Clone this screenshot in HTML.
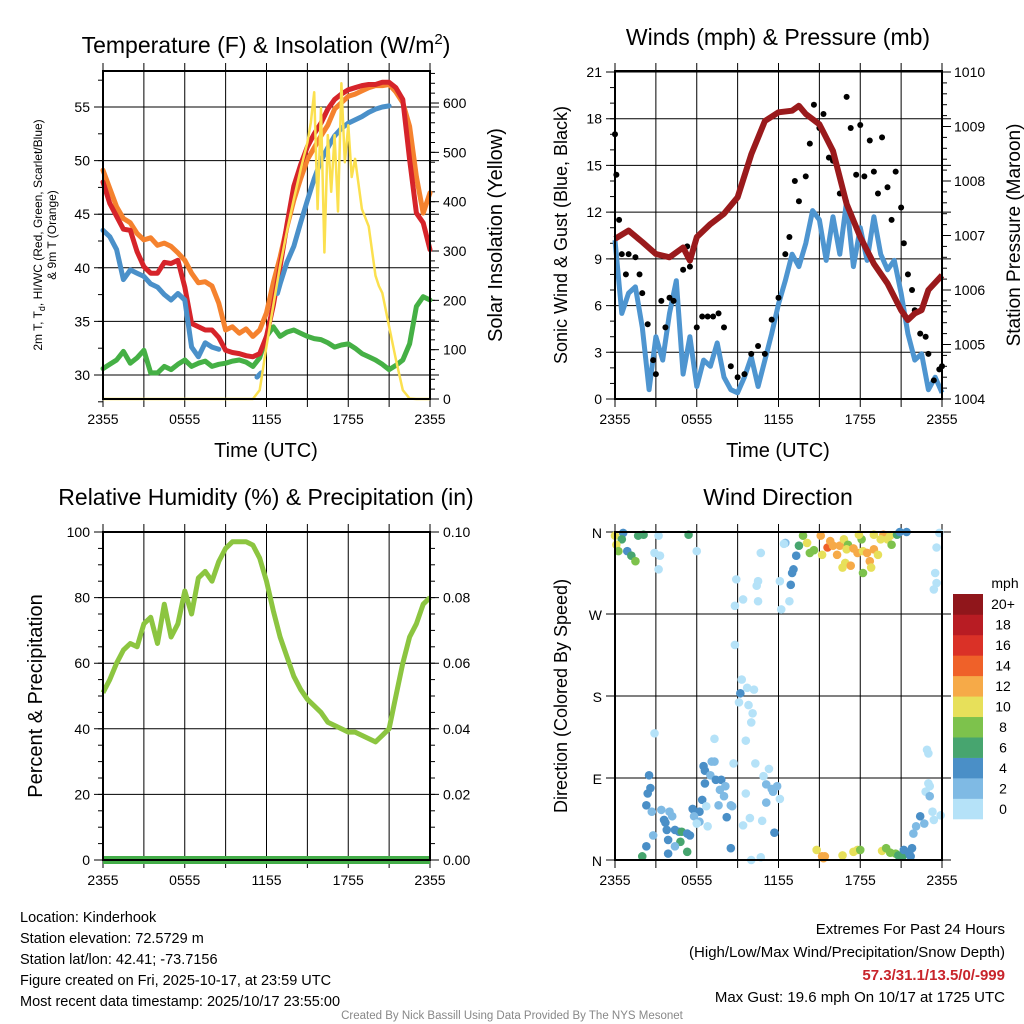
<!DOCTYPE html>
<html><head><meta charset="utf-8"><style>
body{margin:0;background:#fff}
svg{display:block;font-family:"Liberation Sans",Arial,sans-serif}
</style></head><body>
<svg id="c" width="1024" height="1024" viewBox="0 0 1024 1024" xmlns="http://www.w3.org/2000/svg"></svg>
<script>
// ---------- DATA ----------
const xTickLabels = ["2355","0555","1155","1755","2355"];
const tempTicks = [30,35,40,45,50,55];
const solarTicks = [0,100,200,300,400,500,600];
const windTicks = [0,3,6,9,12,15,18,21];
const presTicks = [1004,1005,1006,1007,1008,1009,1010];
const rhTicks = [0,20,40,60,80,100];
const precipTicks = ["0.00","0.02","0.04","0.06","0.08","0.10"];
const dirTickLabels = ["N","E","S","W","N"];
const speedLegendLabels = ["0","2","4","6","8","10","12","14","16","18","20+"];
const speedColors = ["#b5e2f8","#7fbae4","#4a8fc7","#47a56f","#7dc24c","#e7e05a","#f6aa48","#ef6129","#da3127","#b81c23","#90161b"];

const orangeHours = [0,0.5,1,1.5,2,2.5,3,3.5,4,4.5,5,5.5,6,6.5,7,7.5,8,8.5,9,9.5,10,10.5,11,11.5,12,12.5,13,13.5,14,14.5,15,15.5,16,16.5,17,17.5,18,18.5,19,19.5,20,20.5,21,21.5,22,22.5,23,23.5,24];
const orangeT = [49.1,47.4,45.7,44.6,44.2,43.2,42.6,42.8,42.1,42.3,42,41.4,40.7,39.5,38.6,38.7,38.3,36.7,34.2,34.5,33.9,34.3,33.6,34.2,35.8,38.6,41,43.8,46.3,48.3,50.1,51.2,52.3,53.3,54.8,55.4,56,56.2,56.5,56.8,57,57,57.1,56.4,55.4,53.2,48.5,45.1,47];
const redHours = orangeHours;
const redT = [48,46,44.8,43.6,43.5,41.5,40.1,39.5,39.5,40.5,40.4,40.7,38.2,34.8,34.5,34.2,34.2,33.5,32.3,32.1,32,31.8,31.7,32,33.6,36.5,40.1,44,47.6,49.6,51.3,52.5,53.5,54.8,55.7,56.2,56.6,56.8,57,57.1,57.1,57.3,57.3,56.8,55.7,50.1,45.1,44.2,41.7];
const blueHours = [0,0.5,1,1.5,2,2.5,3,3.5,4,4.5,5,5.5,6,6.5,7,7.5,8,8.5,null,11.3,11.6,null,12.8,13,13.5,14,14.5,15,15.5,16,16.5,17,17.5,18,18.5,19,19.5,20,20.5,21];
const blueT = [43.5,42.9,41.7,38.9,39.8,39.5,39.2,38.5,38.2,37.5,37,37.6,37,32.6,31.7,33,32.6,32.4,null,29.8,30.2,null,37.6,38.5,40.5,42,44.2,46.3,48.3,50,51.2,52.3,53,53.5,53.8,54.1,54.5,54.8,55,55.1];
const greenHours = orangeHours;
const greenT = [30.6,31,31.4,32.2,31.1,31.6,32.3,30.2,30.2,30.8,30.5,31,31.4,30.8,31.1,31.3,30.8,31,31.1,31.3,31.4,31.2,30.8,31.6,33.6,34.5,33.6,34,34.2,33.9,33.6,33.4,33.3,33,32.6,32.8,32.9,32.5,32,31.7,31.4,31,30.5,30.9,31.4,32.9,36.4,37.3,37];
const solarHours = [0,6,11,11.5,12,12.5,13,13.5,14,14.5,15,15.25,15.5,15.75,16,16.25,16.5,16.75,17,17.25,17.5,17.75,18,18.25,18.5,19,19.5,20,20.25,20.5,21,21.5,22,22.5,23,24];
const solarW = [0,0,0,18,107,190,270,340,405,465,520,560,622,385,590,297,535,420,535,380,640,480,555,450,487,385,350,250,229,215,147,80,18,1,0,0];

const presHours = [0,1,2,3,4,5,5.5,6,7,8,9,10,11,12,13,13.5,14,15,16,17,18,19,20,21,21.5,22,22.5,23,24];
const presMb = [1006.94,1007.09,1006.88,1006.66,1006.6,1006.78,1006.54,1006.97,1007.21,1007.4,1007.7,1008.49,1009.1,1009.26,1009.29,1009.38,1009.23,1009.04,1008.55,1007.58,1006.97,1006.48,1006.12,1005.63,1005.45,1005.57,1005.63,1006,1006.27];
const windHours = [0,0.5,1,1.5,2,2.5,3,3.5,4,4.5,5,5.5,6,6.5,7,7.5,8,8.5,9,9.5,10,10.5,11,11.5,12,12.5,13,13.5,14,14.5,15,15.5,16,16.5,17,17.5,18,18.5,19,19.5,20,20.5,21,21.5,22,22.5,23,23.5,24];
const windMph = [10.2,5.5,6.8,7.2,4.6,0.6,4,2.5,5.5,7.6,1.6,4,0.8,2.5,2.1,3.6,1.4,0.6,0.4,1.4,2.7,0.8,2.5,4.2,6.1,7.6,9.3,8.5,10,12.1,11.5,8.9,11.7,9.3,12.7,8.5,11,8.9,11.7,9.3,8.3,8.9,6.8,4.2,2.5,2.9,0.6,1.4,0.4];
const gustHours = [0,0.1,0.3,0.5,0.8,1,1.5,1.8,2,2.4,2.8,3,3.4,3.7,4,4.3,5,5.3,5.5,6,6.4,6.8,7.2,7.6,8,8.5,9,9.5,10,10.5,11,11.5,12,12.5,12.8,13.2,13.5,14,14.3,14.6,15,15.3,15.7,16,16.5,17,17.3,17.7,18,18.3,18.7,19,19.3,19.6,20,20.3,20.6,21,21.2,21.5,21.8,22,22.4,22.8,23,23.4,23.8,24];
const gustMph = [17,14.4,11.5,9.3,8,9.3,9.1,8,6.8,4.8,2.5,1.6,6.3,4.6,6.5,6.3,8.3,9.8,8.5,4.6,5.3,5.3,5.3,5.5,4.6,2.1,1.4,1.6,2.9,3.4,2.9,5.1,6.5,9.3,10.4,14,12.7,14.3,16.4,18.9,17.4,18.3,15.5,15.3,13.2,19.4,17.4,14.4,17.6,14.3,16.6,14.6,13.2,16.8,13.6,11.5,14.6,12.3,10,8,7,5.7,4.2,4,2.9,1.2,1.9,2.1];

const rhHours = windHours;
const rhPct = [51,55,60,64,66,65,72,74,66,78,68,72,82,75,86,88,85,91,95,97,97,97,96,92,85,76,68,62,56,52,49,47,45,42,41,40,39,39,38,37,36,38,40,50,60,68,72,78,80];
const precipHours = [0,24];
const precipIn = [0,0];

const dirHours = [
 0,0.6,0.5,0.9,1.2,1.5,1.7,2.1,0.1,0.25,3.2,2.9,3.3,3.2,5.4,6.0,
 8.9,10.7,9.4,8.8,10.4,10.5,10.5,8.8,9.3,9.7,10.2,9.2,9.1,9.8,10.1,10,9.6,
 12.5,13.3,13.1,13,12.9,12.8,12.2,12.1,12.4,13.5,13.8,14.1,14.3,14.6,
 15.1,15.6,15.8,16,16.3,16.5,16.8,17.1,17,17.5,17.8,18.1,18.2,18.5,19,19.3,18.7,18.8,18.2,16.9,17.3,16.7,17.9,19,19.7,20,20.2,20.3,20.7,19.5,15.2,20.9,21.4,
 23.8,23.6,23.5,23.6,23.4,
 2.5,2.6,2.4,2.3,2.7,3.4,3.6,3.7,4.0,4.2,3.8,4.4,4.7,4.9,5.3,5.5,4.8,3.9,4.4,5.3,3.9,2.3,2.0,2.8,2.9,
 6.5,6.6,7.3,7.1,7.0,7.4,7.8,6.6,7.7,8.1,8.0,7.6,8.5,8.6,6.4,6.7,5.7,6.2,5.8,6.2,6.0,6.8,8.2,8.5,7.3,8.7,9.6,9.4,9.9,10.8,10,10.7,10.3,10.9,11.3,11.1,11.5,11.6,11.9,12.1,11.1,11.7,
 14.8,15.2,15.4,15.3,16.7,17.5,17.8,18,19.6,19.9,20.2,20.6,20.8,21.1,21.2,21.6,21.7,21.8,21.9,22.1,22.4,22.7,22.9,23,23,23.1,22.8,23.1,23.3,23.4,23.9];
const dirDeg = [
 356,359,352,339,334,328,356,357,346,339,356,337,334,319,357,339,
 308,337,286,279,301,284,306,236,198,189,187,183,173,170,161,151,131,
 348,334,319,315,302,284,275,306,347,345,356,348,337,340,
 356,343,350,345,335,345,352,346,341,342,337,352,339,337,341,335,328,321,315,326,323,321,357,357,357,352,356,346,357,352,335,360,360,
 359,343,315,304,297,
 93,79,73,60,53,55,44,41,53,48,33,33,31,31,29,27,20,22,15,9,7,15,4,27,139,
 103,98,108,108,93,88,88,84,77,81,70,60,60,59,66,59,56,53,48,42,40,37,47,13,133,106,73,38,46,43,0,3,106,92,100,83,78,75,81,67,63,30,
 11,4,4,2,5,9,11,11,10,13,8,7,5,4,11,7,4,13,29,37,48,40,121,117,84,81,75,70,53,44,49];
const dirSpeed = [
 10,4,6,4,6,8,6,6,10,8,0,0,0,0,6,0,
 0,0,0,0,0,0,0,0,0,0,0,4,0,0,0,0,0,
 2,4,4,4,4,0,0,0,0,6,8,10,8,8,
 12,14,12,12,12,12,10,8,10,12,12,8,10,12,12,10,12,10,8,10,12,10,10,10,12,10,10,8,6,10,10,4,4,
 0,0,0,0,0,
 4,4,4,4,2,2,4,4,2,2,4,4,4,6,4,4,6,4,2,6,4,4,6,2,0,
 4,4,2,2,2,4,4,4,2,2,2,2,2,2,4,0,4,4,2,2,0,0,4,4,0,0,0,0,0,0,0,0,0,0,0,2,2,2,2,0,2,4,
 10,12,12,12,10,10,10,8,10,8,8,8,6,6,4,4,4,4,2,2,4,2,0,0,0,0,0,2,0,0,0];

// ---------- HELPERS ----------
const svg = document.getElementById('c');
const NS = 'http://www.w3.org/2000/svg';
function mk(tag, attrs, parent){
  const e = document.createElementNS(NS, tag);
  for (const k in attrs) e.setAttribute(k, attrs[k]);
  (parent||svg).appendChild(e);
  return e;
}
function txt(x,y,s,size,anchor,parent,extra){
  const t = mk('text',Object.assign({x:x,y:y,'font-size':size,'text-anchor':anchor||'middle',fill:'#000'},extra||{}),parent);
  t.textContent = s;
  return t;
}
function linePath(hours, vals, sx, sy){
  let d = '', pen = false;
  for (let i=0;i<hours.length;i++){
    if (hours[i]===null || vals[i]===null){pen=false;continue;}
    d += (pen?'L':'M') + sx(hours[i]).toFixed(1) + ' ' + sy(vals[i]).toFixed(1) + ' ';
    pen = true;
  }
  return d;
}
function panelFrame(g, L, T, R, B, hTicks, name){
  for (let k=0;k<=8;k++){
    const x = L + (R-L)*k/8;
    const v = mk('line',{x1:x,y1:T-8,x2:x,y2:B+8,stroke:'#000','stroke-width':1},g);
    
    
  }
  hTicks.forEach(y=>{
    const h = mk('line',{x1:L-9,y1:y,x2:R+9,y2:y,stroke:'#000','stroke-width':1},g);
    
    
  });
}
function border(g,L,T,R,B){
  const r = mk('rect',{x:L,y:T,width:R-L,height:B-T,fill:'none',stroke:'#000','stroke-width':2},g);
  
  
}
function xLabels(g,L,R,B){
  xTickLabels.forEach((s,i)=>{
    const t = txt(L+(R-L)*i/4, B+25, s, 14, 'middle', g);
    
    
  });
}
function minorTicks(g, x, yFrom, yTo, step, dir){
  for (let y=yFrom; y>=yTo-0.01; y-=step){
    mk('line',{x1:x,y1:y,x2:x+dir*5,y2:y,stroke:'#000','stroke-width':1},g);
  }
}

// ---------- PANEL 1: Temperature ----------
(function(){
  const L=103,R=430,T=71,B=399;
  const g = mk('g',{});
  
  
  const sx = h => L + h/24*(R-L);
  const sy = v => 375 - (v-30)*10.72;
  const sS = v => B - v*0.4933;
  panelFrame(g,L,T,R,B,tempTicks.map(sy),'temp');
  minorTicks(g,L,sy(27.5),T,10.72*2.5,-1);
  minorTicks(g,R,B,T,0.4933*20,1);
  solarTicks.forEach(v=>mk('line',{x1:R,y1:sS(v),x2:R+9,y2:sS(v),stroke:'#000','stroke-width':1},g));
  const series = [
    [greenHours,greenT,'#45b045','dewpoint-line'],
    [orangeHours,orangeT,'#f5822e','temp-9m-line'],
    [redHours,redT,'#d6242a','temp-2m-line'],
    [blueHours,blueT,'#4a90c9','windchill-line']
  ];
  series.forEach(s=>{
    const p = mk('path',{d:linePath(s[0],s[1],sx,sy),fill:'none',stroke:s[2],'stroke-width':5,'stroke-linejoin':'round','stroke-linecap':'round'},g);
    
    
  });
  const sol = mk('path',{d:linePath(solarHours,solarW,sx,sS),fill:'none',stroke:'#fbe04f','stroke-width':2.5,'stroke-linejoin':'round'},g);
  
  
  border(g,L,T,R,B);
  tempTicks.forEach(v=>txt(L-13,sy(v)+5,String(v),14,'end',g));
  solarTicks.forEach(v=>txt(R+13,sS(v)+5,String(v),14,'start',g));
  xLabels(g,L,R,B);
  const ti = mk('text',{x:266,y:53,'font-size':23,'text-anchor':'middle'},g);
  
  
  ti.innerHTML = 'Temperature (F) &amp; Insolation (W/m<tspan dy="-9" font-size="15">2</tspan><tspan dy="9">)</tspan>';
  const xl = txt(266,457,'Time (UTC)',20,'middle',g);
  
  
  const yl = mk('text',{transform:'translate(42,235) rotate(-90)','font-size':12,'text-anchor':'middle'},g);
  
  
  yl.innerHTML = '2m T, T<tspan dy="3" font-size="9">d</tspan><tspan dy="-3">, HI/WC (Red, Green, Scarlet/Blue)</tspan>';
  const yl2 = txt(0,0,'& 9m T (Orange)',12,'middle',g,{transform:'translate(56,235) rotate(-90)'});
  
  
  const yr = txt(0,0,'Solar Insolation (Yellow)',20,'middle',g,{transform:'translate(502,235) rotate(-90)'});
  
  
})();

// ---------- PANEL 2: Winds ----------
(function(){
  const L=615,R=942,T=71,B=399;
  const g = mk('g',{});
  
  
  const sx = h => L + h/24*(R-L);
  const sy = v => B - v*(B-72)/21;
  const sp = v => B - (v-1004)*(B-72)/6;
  panelFrame(g,L,T,R,B,windTicks.map(sy),'wind');
  minorTicks(g,L,B,T,(B-72)/21,-1);
  minorTicks(g,R,B,T,(B-72)/30,1);
  presTicks.forEach(v=>mk('line',{x1:R,y1:sp(v),x2:R+9,y2:sp(v),stroke:'#000','stroke-width':1},g));
  const w = mk('path',{d:linePath(windHours,windMph,sx,sy),fill:'none',stroke:'#4e95d0','stroke-width':5,'stroke-linejoin':'round'},g);
  
  
  for (let i=0;i<gustHours.length;i++){
    const c = mk('circle',{cx:sx(gustHours[i]),cy:sy(gustMph[i]),r:3,fill:'#000'},g);
    
    
  }
  const p = mk('path',{d:linePath(presHours,presMb,sx,sp),fill:'none',stroke:'#9a1a1c','stroke-width':6,'stroke-linejoin':'round'},g);
  
  
  border(g,L,T,R,B);
  windTicks.forEach(v=>txt(L-13,sy(v)+5,String(v),14,'end',g));
  presTicks.forEach(v=>txt(R+12,sp(v)+5,String(v),14,'start',g));
  xLabels(g,L,R,B);
  const ti = txt(778,45,'Winds (mph) & Pressure (mb)',23,'middle',g);
  
  
  const xl = txt(778,457,'Time (UTC)',20,'middle',g);
  
  
  const yl = txt(0,0,'Sonic Wind & Gust (Blue, Black)',18,'middle',g,{transform:'translate(567,235) rotate(-90)'});
  
  
  const yr = txt(0,0,'Station Pressure (Maroon)',19,'middle',g,{transform:'translate(1020,235) rotate(-90)'});
  
  
})();

// ---------- PANEL 3: RH ----------
(function(){
  const L=103,R=430,T=532,B=860;
  const g = mk('g',{});
  
  
  const sx = h => L + h/24*(R-L);
  const sy = v => B - v*(B-T)/100;
  const spr = v => B - v*(B-T)/0.1;
  panelFrame(g,L,T,R,B,rhTicks.map(sy),'rh');
  minorTicks(g,L,B,T,(B-T)/20,-1);
  minorTicks(g,R,B,T,(B-T)/20,1);
  const r = mk('path',{d:linePath(rhHours,rhPct,sx,sy),fill:'none',stroke:'#8cc540','stroke-width':5,'stroke-linejoin':'round'},g);
  
  
  const pr = mk('path',{d:linePath(precipHours,precipIn,sx,spr),fill:'none',stroke:'#43ad48','stroke-width':8},g);
  
  
  border(g,L,T,R,B);
  rhTicks.forEach(v=>txt(L-13,sy(v)+5,String(v),14,'end',g));
  precipTicks.forEach((s,i)=>txt(R+13,sy(i*20)+5,s,14,'start',g));
  xLabels(g,L,R,B);
  const ti = txt(266,505,'Relative Humidity (%) & Precipitation (in)',23,'middle',g);
  
  
  const yl = txt(0,0,'Percent & Precipitation',20,'middle',g,{transform:'translate(42,696) rotate(-90)'});
  
  
})();

// ---------- PANEL 4: Wind direction ----------
(function(){
  const L=615,R=942,T=532,B=860;
  const g = mk('g',{});
  
  
  const sx = h => L + h/24*(R-L);
  const sy = d => B - d*(B-T)/360;
  panelFrame(g,L,T,R,B,[0,90,180,270,360].map(sy),'dir');
  const n = Math.min(dirHours.length, dirDeg.length, dirSpeed.length);
  for (let i=0;i<n;i++){
    const idx = Math.max(0, Math.min(10, Math.round(dirSpeed[i]/2)));
    const c = mk('circle',{cx:sx(dirHours[i]),cy:sy(dirDeg[i]),r:4.3,fill:speedColors[idx]},g);
    
    
  }
  border(g,L,T,R,B);
  dirTickLabels.forEach((s,i)=>txt(L-13,sy(i*90)+6,s,14,'end',g));
  xLabels(g,L,R,B);
  const ti = txt(778,505,'Wind Direction',23,'middle',g);
  
  
  const yl = txt(0,0,'Direction (Colored By Speed)',18,'middle',g,{transform:'translate(567,696) rotate(-90)'});
  
  
  const lg = mk('g',{},g);
  
  
  const cbT=594, cbB=819, nb=speedColors.length, bh=(cbB-cbT)/nb;
  for (let k=0;k<nb;k++){
    const y = cbB - (k+1)*bh;
    const b = mk('rect',{x:953,y:y,width:30,height:bh+0.3,fill:speedColors[k]},lg);
    
    
    const t = txt(1003,y+bh/2+5,speedLegendLabels[k],14,'middle',lg);
    
    
  }
  const u = txt(1005,588,'mph',14,'middle',lg);
  
  
})();

// ---------- FOOTER ----------
(function(){
  const g = mk('g',{});
  
  
  const left = ['Location: Kinderhook','Station elevation: 72.5729 m','Station lat/lon: 42.41; -73.7156','Figure created on Fri, 2025-10-17, at 23:59 UTC','Most recent data timestamp: 2025/10/17 23:55:00'];
  left.forEach((s,i)=>{
    const t = txt(20,922+i*21,s,14.5,'start',g);
    
    
  });
  const r1 = txt(1005,934,'Extremes For Past 24 Hours',15,'end',g);
  
  
  const r2 = txt(1005,957,'(High/Low/Max Wind/Precipitation/Snow Depth)',15,'end',g);
  
  
  const r3 = txt(1005,980,'57.3/31.1/13.5/0/-999',15,'end',g,{fill:'#c8242b','font-weight':'bold'});
  
  
  const r4 = txt(1005,1002,'Max Gust: 19.6 mph On 10/17 at 1725 UTC',15,'end',g);
  
  
  const cr = txt(512,1019,'Created By Nick Bassill Using Data Provided By The NYS Mesonet',11.5,'middle',g,{fill:'#888'});
  
  
})();
</script>
</body></html>
